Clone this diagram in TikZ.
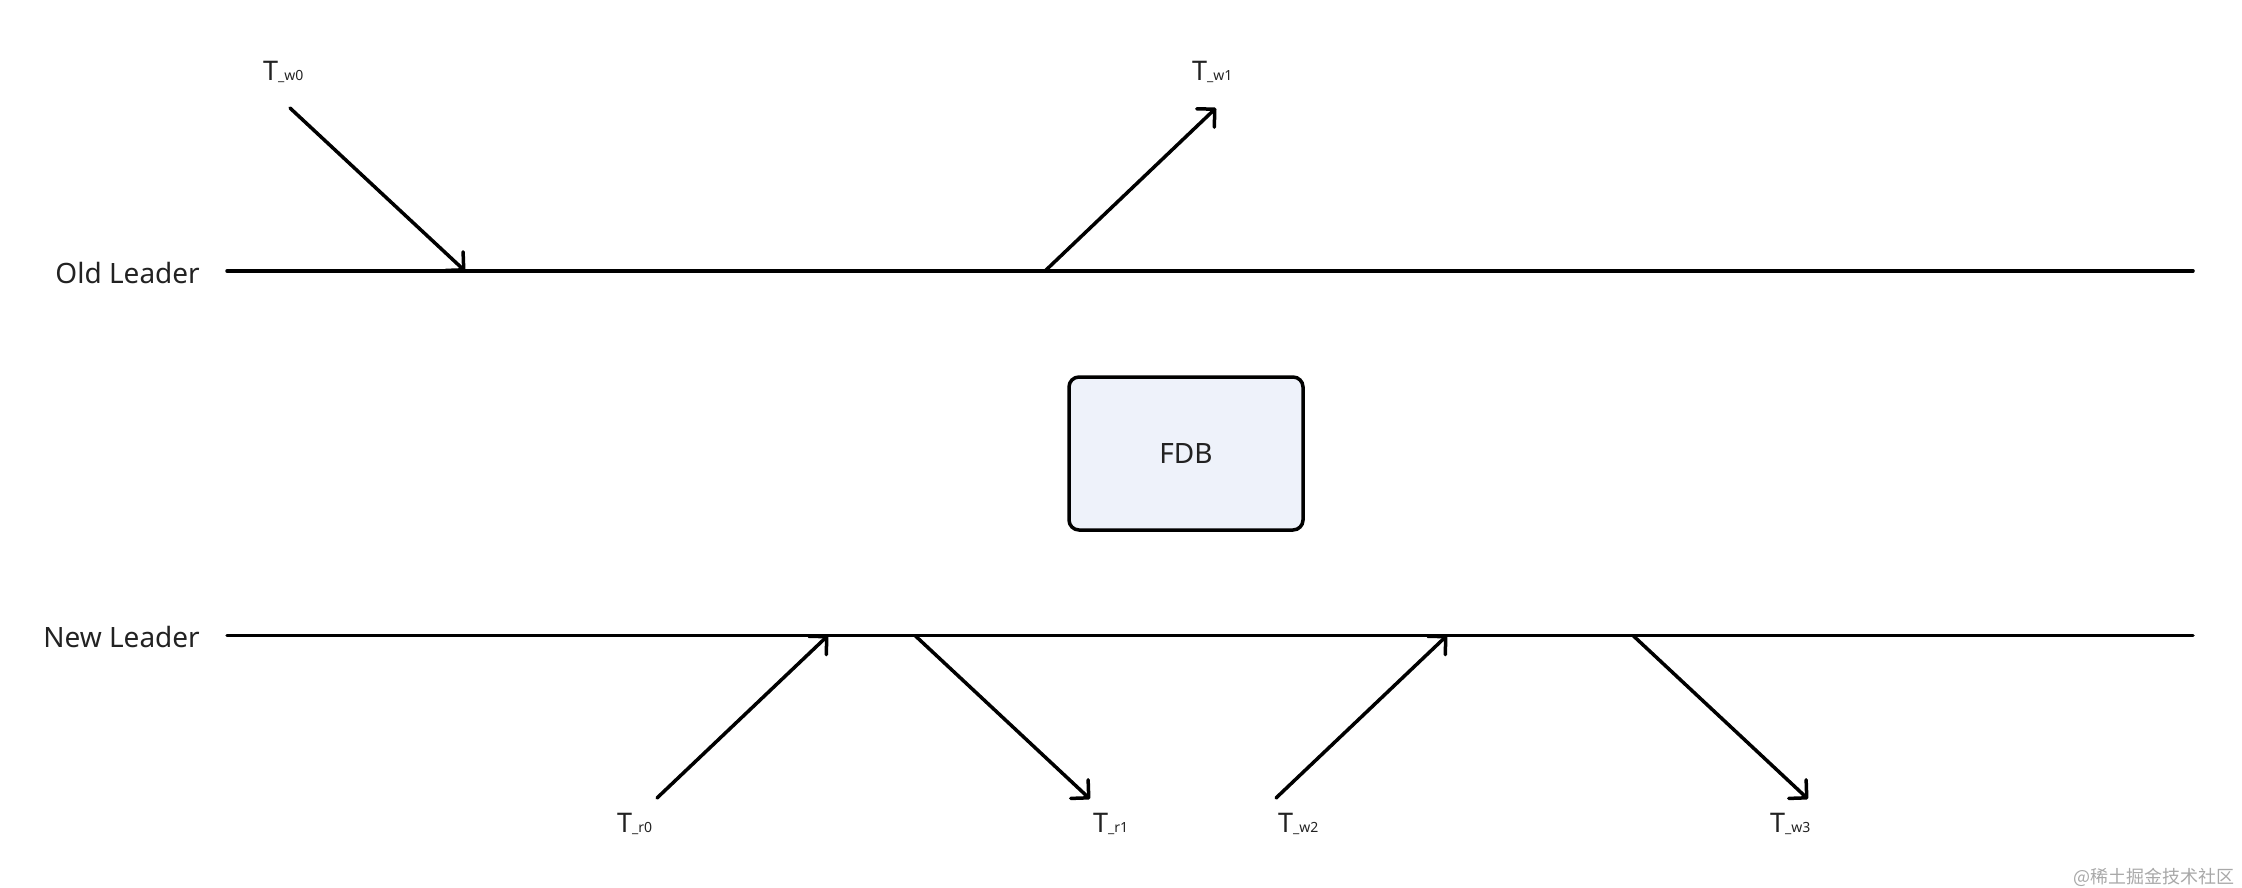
\documentclass[tikz,border=0pt]{standalone}
\usepackage{fontspec}
\setmainfont{Noto Sans}
\newfontfamily\cjkwm{Noto Sans CJK SC}
\usetikzlibrary{arrows.meta}
\definecolor{txt}{HTML}{222222}
\definecolor{fdbfill}{HTML}{EEF2FA}
\definecolor{wm}{HTML}{A8A8A8}
\tikzset{
  lane/.style={line width=3.5pt, line cap=round},
  msg/.style={line width=3.5pt, line cap=round, -{Straight Barb[angle=90:18pt, round]}},
  lanelabel/.style={font=\fontsize{28}{32}\selectfont, text=txt, anchor=base east, inner sep=0pt},
  tlabel/.style={font=\fontsize{27}{30}\selectfont, text=txt, anchor=base west, inner sep=0pt},
  dbbox/.style={draw, line width=3.5pt, rounded corners=10pt, fill=fdbfill, minimum width=234pt, minimum height=153pt, font=\fontsize{28}{32}\selectfont, text=txt, inner sep=0pt},
  wmark/.style={font=\cjkwm\fontsize{18}{20}\selectfont, text=wm, anchor=east, inner sep=0pt},
}
\newcommand{\tlab}[1]{T{\fontsize{14}{16}\selectfont\_#1}}
\begin{document}
\begin{tikzpicture}[x=1pt,y=-1pt]
\useasboundingbox (0,0) rectangle (2242,888);
% lanes
\coordinate (ol1) at (227,271);
\coordinate (ol2) at (2193,271);
\coordinate (nl1) at (227,635.5);
\coordinate (nl2) at (2193,635.5);
\draw[lane] (ol1) -- (ol2);
\draw[lane] (nl1) -- (nl2);
\node[lanelabel] (oldl) at (200,283) {Old Leader};
\node[lanelabel] (newl) at (200,647) {New Leader};
% FDB
\node[dbbox] (fdb) at (1186,453.5) {FDB};
% old leader messages
\coordinate (w0s) at (290,108);
\coordinate (w0e) at (465,271);
\draw[msg] (w0s) -- (w0e);
\node[tlabel] (tw0) at (263,81) {\tlab{w0}};
\coordinate (w1s) at (1045,271);
\coordinate (w1e) at (1216,108);
\draw[msg] (w1s) -- (w1e);
\node[tlabel] (tw1) at (1192,81) {\tlab{w1}};
% new leader messages
\coordinate (r0s) at (657,798);
\coordinate (r0e) at (828,635.5);
\draw[msg] (r0s) -- (r0e);
\node[tlabel] (tr0) at (617,832) {\tlab{r0}};
\coordinate (r1s) at (915,635.5);
\coordinate (r1e) at (1090,799);
\draw[msg] (r1s) -- (r1e);
\node[tlabel] (tr1) at (1093,832) {\tlab{r1}};
\coordinate (w2s) at (1276,798);
\coordinate (w2e) at (1447,635.5);
\draw[msg] (w2s) -- (w2e);
\node[tlabel] (tw2) at (1278,832) {\tlab{w2}};
\coordinate (w3s) at (1633,635.5);
\coordinate (w3e) at (1808,799);
\draw[msg] (w3s) -- (w3e);
\node[tlabel] (tw3) at (1770,832) {\tlab{w3}};
% watermark
\node[wmark] (wmk) at (2235,877) {@稀土掘金技术社区};
\end{tikzpicture}
\end{document}
